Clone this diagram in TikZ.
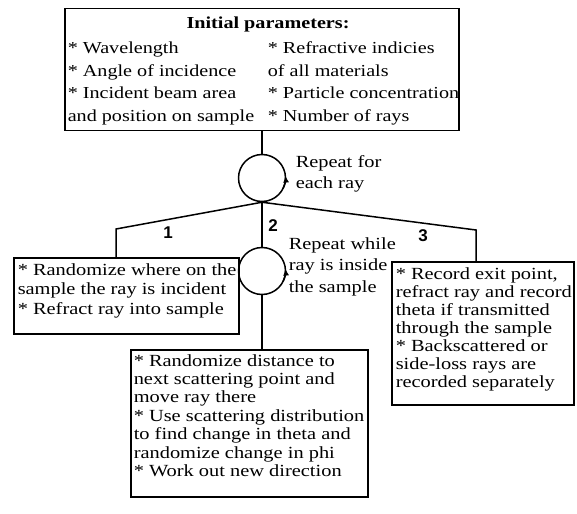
\documentclass[tikz,border=0pt]{standalone}
\usepackage{fontspec}
\setmainfont{Liberation Serif}[FakeStretch=1.2]
\newfontfamily\numfont{Liberation Sans}
\usetikzlibrary{arrows.meta,calc}
\tikzset{
  frame/.style={draw, rectangle, inner sep=0pt, anchor=north west},
  ringstyle/.style={draw, circle, minimum size=47pt, inner sep=0pt},
  tipstyle/.style={-{Latex[length=7pt,width=6pt]}},
  numstyle/.style={font=\numfont\bfseries\fontsize{17}{17}\selectfont, inner sep=0pt},
  txt/.style={inner sep=0pt, anchor=base west, align=left},
}
\begin{document}
\begin{tikzpicture}[x=1pt, y=-1pt, line width=1.5pt]
\useasboundingbox (0,0) rectangle (577,513);

% ---- top box
\node[frame, minimum width=394pt, minimum height=122pt] (top) at (64,8) {};
\node[inner sep=0pt, anchor=base, font=\bfseries\fontsize{16.8}{16.8}\selectfont] (title) at (268,29) {Initial parameters:};
\node[txt] (tl) at (67,54) {\parbox[t]{195pt}{\fontsize{16.8}{22.4}\selectfont\lineskiplimit=-100pt\raggedright
{*} Wavelength\\{*} Angle of incidence\\{*} Incident beam area\\and position on sample}};
\node[txt] (tr) at (267,54) {\parbox[t]{195pt}{\fontsize{16.8}{22.4}\selectfont\lineskiplimit=-100pt\raggedright
{*} Refractive indicies\\of all materials\\{*} Particle concentration\\{*} Number of rays}};

% ---- circles
\node[ringstyle] (c1) at (262,178) {};
\node[ringstyle] (c2) at (262,271) {};
\draw[tipstyle] ($(c1.center)+(26:23.5)$) arc[start angle=26, end angle=-6, radius=23.5];
\draw[tipstyle] ($(c2.center)+(26:23.5)$) arc[start angle=26, end angle=-6, radius=23.5];

\node[txt] (rep1) at (295,167) {\parbox[t]{90pt}{\fontsize{17}{21}\selectfont\lineskiplimit=-100pt\raggedright
Repeat for\\each ray}};
\node[txt] (rep2) at (288,249) {\parbox[t]{110pt}{\fontsize{17}{21.5}\selectfont\lineskiplimit=-100pt\raggedright
Repeat while\\ray is inside\\the sample}};

% ---- box 1
\node[frame, minimum width=225pt, minimum height=76pt] (b1) at (13,257) {};
\node[txt] (b1t) at (17,275) {\parbox[t]{225pt}{\fontsize{17}{19.6}\selectfont\lineskiplimit=-100pt\raggedright
{*} Randomize where on the\\sample the ray is incident\\{*} Refract ray into sample}};

% ---- box 3
\node[frame, minimum width=182pt, minimum height=143pt] (b3) at (391,261) {};
\node[txt] (b3t) at (395,279) {\parbox[t]{180pt}{\fontsize{17}{18}\selectfont\lineskiplimit=-100pt\raggedright
{*} Record exit point,\\refract ray and record\\theta if transmitted\\through the sample\\{*} Backscattered or\\side-loss rays are\\recorded separately}};

% ---- bottom box
\node[frame, minimum width=237pt, minimum height=147pt] (b2) at (130,349) {};
\node[txt] (b2t) at (133,366) {\parbox[t]{240pt}{\fontsize{17}{18.4}\selectfont\lineskiplimit=-100pt\raggedright
{*} Randomize distance to\\next scattering point and\\move ray there\\{*} Use scattering distribution\\to find change in theta and\\randomize change in phi\\{*} Work out new direction}};

% ---- connectors
\coordinate (lc) at (116,229);
\coordinate (rc) at (476,230);
\draw (c1.north) -- (c1.north |- top.south);
\draw (c1.south) -- (lc) -- (lc |- b1.north);
\draw (c1.south) -- (rc) -- (rc |- b3.north);
\draw (c1.south) -- (c2.north);
\draw (c2.south) -- (c2.south |- b2.north);

% ---- branch numbers
\node[numstyle] (n1) at (168,233) {1};
\node[numstyle] (n2) at (273,226) {2};
\node[numstyle] (n3) at (423,236) {3};
\end{tikzpicture}
\end{document}
